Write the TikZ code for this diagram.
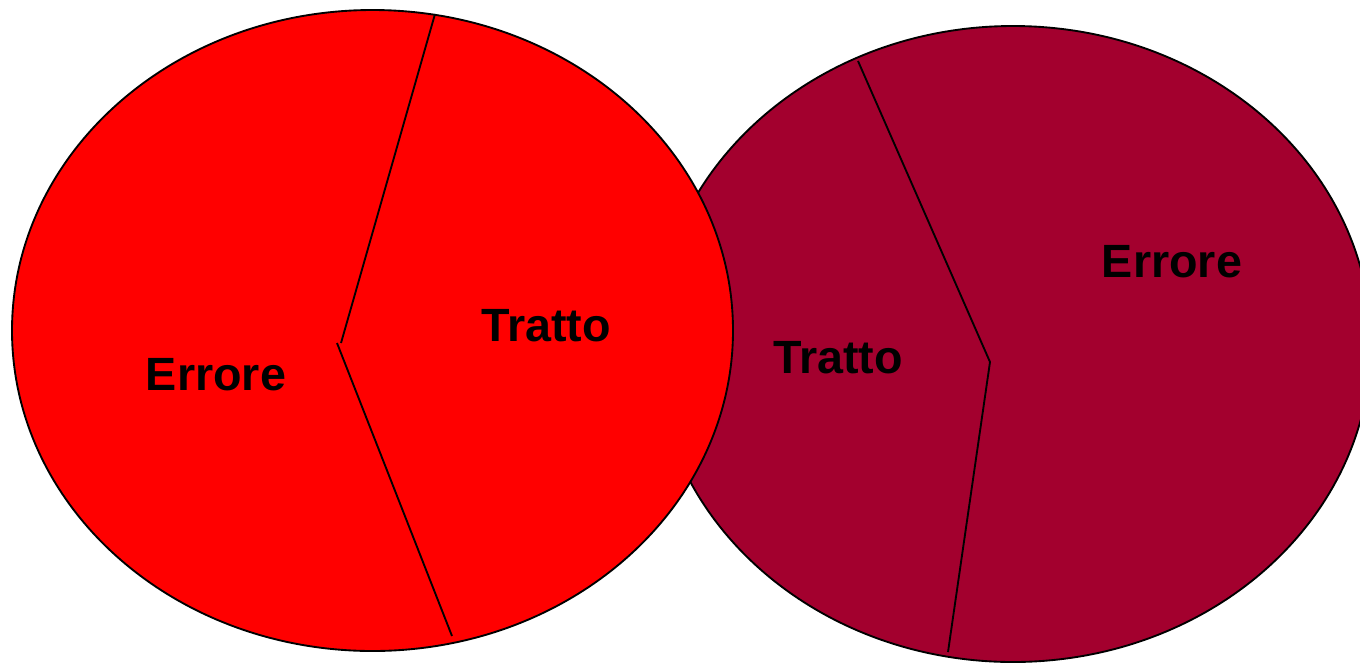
\documentclass[tikz,border=0pt]{standalone}
\usepackage{fontspec}
\setmainfont{Liberation Sans}
\usetikzlibrary{positioning}
\definecolor{vivid}{RGB}{255,0,0}
\definecolor{wine}{RGB}{163,0,46}
\tikzset{
  part/.style={draw=black, line width=1.4pt},
  cut/.style={draw=black, line width=1.4pt},
  lbl/.style={font=\fontsize{35}{40}\selectfont\bfseries, inner sep=0pt},
}

\begin{document}
\begin{tikzpicture}[x=0.75pt, y=-0.75pt]
  \useasboundingbox (0,0) rectangle (1360,662);
  \clip (0,0) rectangle (1360,662);
  % right pie (behind)
  \draw[part, fill=wine] (1013,344) ellipse [x radius=358, y radius=318];
  \coordinate (rtop) at (858,61);
  \coordinate (rmid) at (990,362);
  \coordinate (rbot) at (948,652);
  \draw[cut] (rtop) -- (rmid) -- (rbot);
  % left pie (front)
  \draw[part, fill=vivid] (372.5,330.5) ellipse [x radius=360.5, y radius=320.5];
  \coordinate (ltop) at (435,14);
  \coordinate (lmidA) at (341,343);
  \coordinate (lmidB) at (337,343);
  \coordinate (lbot) at (452,636);
  \draw[cut] (ltop) -- (lmidA);
  \draw[cut] (lmidB) -- (lbot);
  % labels
  \node[lbl] (errL) at (216,375) {Errore};
  \node[lbl] (traL) at (546,326) {Tratto};
  \node[lbl] (traR) at (838,358) {Tratto};
  \node[lbl] (errR) at (1172,262) {Errore};
\end{tikzpicture}
\end{document}
